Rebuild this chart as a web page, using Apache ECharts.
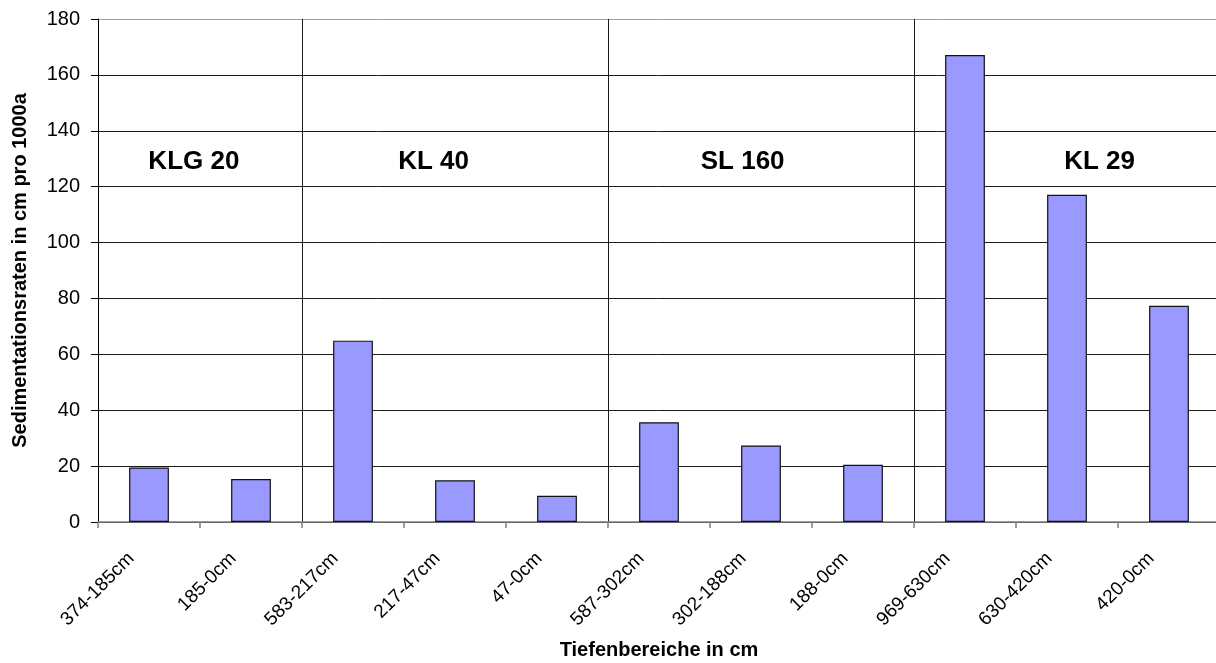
<!DOCTYPE html>
<html>
<head>
<meta charset="utf-8">
<script src="https://cdn.jsdelivr.net/npm/echarts@6/dist/echarts.min.js"></script>
<style>html,body{margin:0;padding:0;background:#fff}#c{width:1216px;height:663px}</style>
</head>
<body>
<div id="c"></div>
<script>
var categories = ['374-185cm','185-0cm','583-217cm','217-47cm','47-0cm','587-302cm','302-188cm','188-0cm','969-630cm','630-420cm','420-0cm'];
var rates = [19.5, 15.4, 64.9, 14.9, 9.4, 35.7, 27.4, 20.5, 167.1, 117.1, 77.4];
var yTicks = [0, 20, 40, 60, 80, 100, 120, 140, 160, 180];
var groupNames = ['KLG 20', 'KL 40', 'SL 160', 'KL 29'];
var groupStart = [0, 2, 5, 8];
var groupX = [0.94, 3.29, 6.32, 9.82];
var groupY = [129, 129, 129, 129];

var chart = echarts.init(document.getElementById('c'));
var font = 'Liberation Sans, Arial, sans-serif';
var gridColors = yTicks.map(function(v, i){ return i === yTicks.length - 1 ? '#a0a0a0' : '#1a1a1a'; });

chart.setOption({
  animation: false,
  grid: { left: 98, right: -4, top: 19, bottom: 141, containLabel: false, outerBoundsMode: 'none' },
  xAxis: [{
    type: 'category',
    data: categories,
    boundaryGap: true,
    name: 'Tiefenbereiche in cm',
    nameLocation: 'middle',
    nameGap: 118,
    nameTextStyle: { fontFamily: font, fontSize: 20, fontWeight: 'bold', color: '#000' },
    axisLine: { show: true, lineStyle: { color: '#808080', width: 1.5 } },
    axisTick: { show: true, interval: 0, length: 6, lineStyle: { color: '#808080', width: 1.5 } },
    axisLabel: { interval: 0, rotate: 45, margin: 16, padding: [0, 25, 0, 0], fontFamily: font, fontSize: 19, color: '#000' },
    splitLine: {
      show: true,
      interval: function(i){ return groupStart.indexOf(i) > 0; },
      lineStyle: { color: '#1a1a1a', width: 1 }
    }
  }, {
    type: 'value', min: 0, max: categories.length, show: false
  }],
  yAxis: {
    type: 'value',
    min: yTicks[0],
    max: yTicks[yTicks.length - 1],
    interval: yTicks[1] - yTicks[0],
    name: 'Sedimentationsraten in cm pro 1000a',
    nameLocation: 'middle',
    nameGap: 68,
    nameRotate: 90,
    nameTextStyle: { fontFamily: font, fontSize: 20, fontWeight: 'bold', color: '#000' },
    axisLine: { show: true, lineStyle: { color: '#000', width: 1 } },
    axisTick: { show: true, length: 7, lineStyle: { color: '#000' } },
    axisLabel: { margin: 18, fontFamily: font, fontSize: 20, color: '#000' },
    splitLine: { show: true, lineStyle: { color: gridColors, width: 1 } }
  },
  series: [{
    type: 'bar',
    data: rates,
    barWidth: '39%',
    itemStyle: { color: '#9999ff', borderColor: '#111', borderWidth: 1.2 }
  }, {
    type: 'scatter',
    xAxisIndex: 1,
    symbolSize: 0,
    itemStyle: { opacity: 1 },
    data: groupNames.map(function(n, i){ return { value: [groupX[i], groupY[i]], name: n }; }),
    label: {
      show: true, position: 'inside', formatter: '{b}',
      fontFamily: font, fontSize: 26, fontWeight: 'bold', color: '#000', opacity: 1
    },
    silent: true
  }]
});
</script>
</body>
</html>
